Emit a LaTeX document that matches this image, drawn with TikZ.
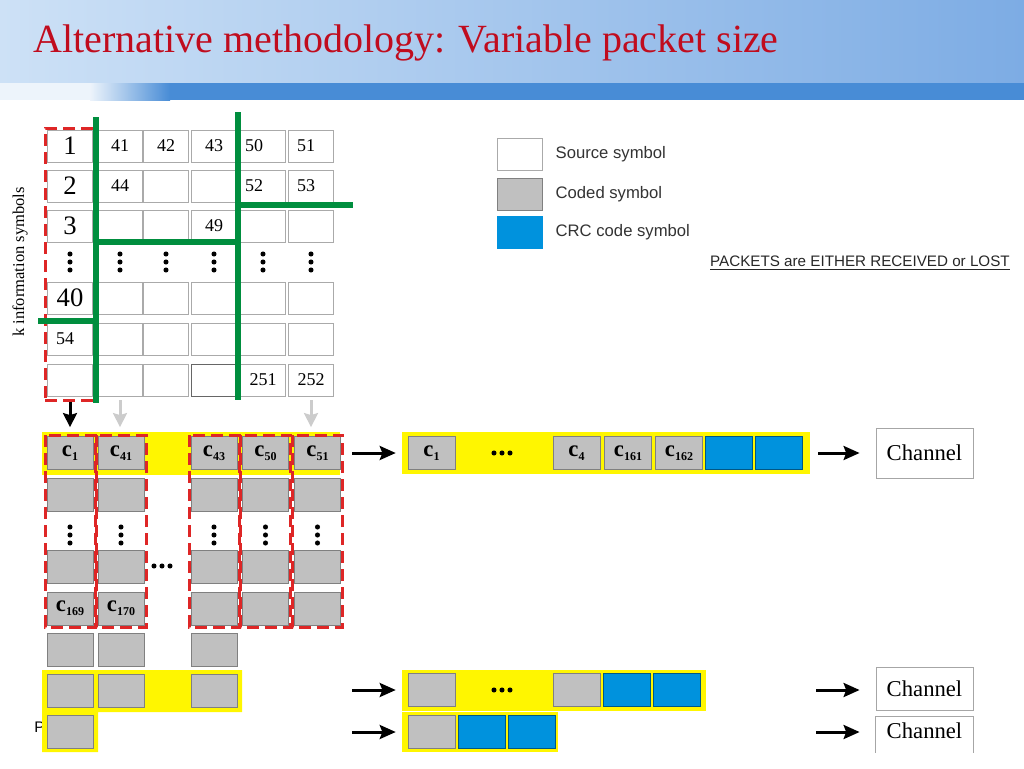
\documentclass[tikz,border=0pt]{standalone}
\usepackage{fontspec}
\setmainfont{Liberation Serif}
\setsansfont{Liberation Sans}
\usepackage{tikz}
\usetikzlibrary{arrows.meta, positioning, calc}

\definecolor{hdleft}{RGB}{205,225,246}
\definecolor{hdright}{RGB}{125,172,228}
\definecolor{hdbar}{RGB}{72,140,214}
\definecolor{titlered}{RGB}{192,12,30}
\definecolor{cutgreen}{RGB}{0,142,62}
\definecolor{dashred}{RGB}{222,38,38}
\definecolor{codegray}{RGB}{192,192,192}
\definecolor{crcblue}{RGB}{0,146,221}
\definecolor{pkyellow}{RGB}{255,246,0}
\definecolor{boxline}{RGB}{170,170,170}

\newcommand{\csym}[1]{{\fontsize{17}{17}\selectfont\bfseries c}{\fontsize{9}{9}\selectfont\bfseries\raisebox{-3pt}{#1}}}

\begin{document}
\begin{tikzpicture}[x=0.75pt, y=-0.75pt,
    src/.style={draw=boxline, line width=0.6pt, fill=white, minimum width=33.75pt, minimum height=24pt, inner sep=0pt},
    coded/.style={draw=gray, line width=0.6pt, fill=codegray, minimum width=34.5pt, minimum height=24.75pt, inner sep=0pt},
    pcoded/.style={coded, minimum width=35.25pt},
    crc/.style={draw=black!40!crcblue, line width=0.6pt, fill=crcblue, minimum width=35.25pt, minimum height=24.75pt, inner sep=0pt},
    packet/.style={fill=pkyellow, inner sep=0pt},
    channel/.style={draw=gray!70, line width=0.6pt, fill=white, minimum width=72.75pt, inner sep=0pt, font=\fontsize{17}{20}\selectfont},
    bignum/.style={font=\fontsize{20}{20}\selectfont},
    smallnum/.style={font=\fontsize{13.5}{14}\selectfont},
    legtxt/.style={inner sep=0pt, anchor=west, text=black!80, font=\sffamily\fontsize{12.5}{14}\selectfont},
    cut/.style={draw=cutgreen, line width=4.5pt},
    reddash/.style={draw=dashred, line width=2.25pt, dash pattern=on 9pt off 4.5pt},
    arr/.style={line width=2.25pt, -{Stealth[length=12pt, width=10.5pt, inset=2pt]}},
    darr/.style={line width=2.25pt, -{Stealth[length=10.5pt, width=10.5pt, inset=1.5pt]}},
    garr/.style={darr, draw=black!20}
]
    \useasboundingbox (0,0) rectangle (1024,768);

    \shade[left color=hdleft, right color=hdright] (0,0) rectangle (1024,83);
    \fill[hdbar!10] (0,83) rectangle (90,100);
    \shade[left color=hdbar!10, right color=hdbar] (90,83) rectangle (170,100);
    \fill[hdbar] (170,83) rectangle (1024,100);
    \node[anchor=base west, inner sep=0pt, text=titlered, font=\fontsize{30}{36}\selectfont] (title) at (33,52) {Alternative methodology: Variable packet size};

    \foreach \r/\y in {1/146,2/186,3/226,5/298,6/339,7/380}
        \foreach \c/\x in {0/70,1/120,2/166,3/214,4/263,5/311}
            \node[src] (g\r\c) at (\x,\y) {};
    \node[src, draw=black!60] at (g73) {};

    \node[bignum] at (g10) {1};
    \node[bignum] at (g20) {2};
    \node[bignum] at (g30) {3};
    \node[bignum] at (g50) {40};
    \node[smallnum] at (g11) {41};
    \node[smallnum] at (g12) {42};
    \node[smallnum] at (g13) {43};
    \node[smallnum, xshift=-6.75pt] at (g14) {50};
    \node[smallnum, xshift=-3.75pt] at (g15) {51};
    \node[smallnum] at (g21) {44};
    \node[smallnum, xshift=-6.75pt] at (g24) {52};
    \node[smallnum, xshift=-3.75pt] at (g25) {53};
    \node[smallnum] at (g33) {49};
    \node[smallnum, xshift=-3.75pt] at (g60) {54};
    \node[smallnum] at (g74) {251};
    \node[smallnum] at (g75) {252};

    \foreach \x in {70,120,166,214,263,311}
        \foreach \d in {-8,0,8}
            \fill ({\x},{262+\d}) circle (1.9pt);

    \node[rotate=90, font=\fontsize{12.4}{14}\selectfont] (klab) at (20,262) {k information symbols};

    \node[reddash, minimum width=37.5pt, minimum height=204pt, inner sep=0pt] (tcol0) at (70,264) {};

    \draw[cut] (96,117) -- (96,403);
    \draw[cut] (238,112) -- (238,400);
    \draw[cut] (38,321) -- (96,321);
    \draw[cut] (96,242) -- (238,242);
    \draw[cut] (238,205) -- (353,205);

    \fill[pkyellow] (42,432) rectangle (340,475);
    \node[font=\sffamily\fontsize{11.5}{12}\selectfont, anchor=west, inner sep=0pt] (ptxt) at (34,727) {P};
    \fill[pkyellow] (42,670) -- (242,670) -- (242,712) -- (98,712) -- (98,752) -- (42,752) -- cycle;

    \node[coded] (b00) at (70,453) {\csym{1}};
    \node[coded] (b01) at (121,453) {\csym{41}};
    \node[coded] (b03) at (214,453) {\csym{43}};
    \node[coded] (b04) at (265.5,453) {\csym{50}};
    \node[coded] (b05) at (317.5,453) {\csym{51}};
    \foreach \c/\x in {0/70,1/121,3/214,4/265.5,5/317.5} {
        \node[coded] (b1\c) at (\x,495) {};
        \node[coded] (b3\c) at (\x,566.5) {};
    }
    \node[coded] (b40) at (70,608.5) {\csym{169}};
    \node[coded] (b41) at (121,608.5) {\csym{170}};
    \foreach \c/\x in {3/214,4/265.5,5/317.5}
        \node[coded] (b4\c) at (\x,608.5) {};
    \foreach \c/\x in {0/70,1/121,3/214} {
        \node[coded] (b5\c) at (\x,649.5) {};
        \node[coded] (b6\c) at (\x,690.5) {};
    }
    \node[coded] (b70) at (70,732) {};

    \foreach \x in {70,121,214,265.5,317.5} {
        \draw[reddash] ({\x-25},435) rectangle ({\x+25},627);
        \foreach \d in {-8,0,8}
            \fill ({\x},{535+\d}) circle (1.9pt);
    }
    \foreach \x in {154,162,170}
        \fill (\x,566) circle (1.9pt);

    \draw[darr] (tcol0.south) -- ([yshift=6.75pt]b00.north);
    \draw[garr, shorten <=3pt, shorten >=6.75pt] (g71.south) -- (g71.south |- b01.north);
    \draw[garr, shorten <=3pt, shorten >=6.75pt] (g75.south) -- (g75.south |- b05.north);

    \node[packet, minimum width=306pt, minimum height=31.5pt] (pk1) at (606,453) {};
    \node[pcoded] (p11) at (431.5,453) {\csym{1}};
    \node[pcoded] (p12) at (576.5,453) {\csym{4}};
    \node[pcoded] (p13) at (628,453) {\csym{161}};
    \node[pcoded] (p14) at (679,453) {\csym{162}};
    \node[crc] (p15) at (729,453) {};
    \node[crc] (p16) at (779,453) {};

    \node[packet, minimum width=228pt, minimum height=30.75pt] (pkA) at (554,690.5) {};
    \node[packet, minimum width=117pt, minimum height=30pt] (pkB) at (480,732) {};
    \node[pcoded] (pa1) at (431.5,690) {};
    \node[pcoded] (pa2) at (576.5,690) {};
    \node[crc] (pa3) at (626.5,690) {};
    \node[crc] (pa4) at (676.5,690) {};
    \node[pcoded] (pb1) at (431.5,732) {};
    \node[crc] (pb2) at (481.5,732) {};
    \node[crc] (pb3) at (531.5,732) {};

    \foreach \y in {453,690}
        \foreach \x in {494,502,510}
            \fill (\x,\y) circle (1.9pt);

    \node[channel, minimum height=37.5pt] (ch1) at (924.5,453) {Channel};
    \node[channel, minimum height=32.25pt] (chA) at (924.5,688.5) {Channel};
    \node[channel, draw=none, minimum height=27pt, anchor=north] (chB) at (924.5,716) {};
    \draw[gray!70, line width=0.6pt] (chB.south west) -- (chB.north west) -- (chB.north east) -- (chB.south east);
    \node[font=\fontsize{17}{20}\selectfont] (chBt) at (924.5,731) {Channel};

    \coordinate (s1) at (352,453);
    \coordinate (sA) at (352,690);
    \coordinate (sB) at (352,732);
    \coordinate (r1) at (818,453);
    \coordinate (rA) at (816,690);
    \coordinate (rB) at (816,732);
    \draw[arr, shorten >=4.5pt] (s1) -- (s1 -| pk1.west);
    \draw[arr, shorten >=4.5pt] (sA) -- (sA -| pkA.west);
    \draw[arr, shorten >=4.5pt] (sB) -- (sB -| pkB.west);
    \draw[arr, shorten >=12pt] (r1) -- (r1 -| ch1.west);
    \draw[arr, shorten >=12pt] (rA) -- (rA -| chA.west);
    \draw[arr, shorten >=12pt] (rB) -- (rB -| chB.west);

    \node[src] (ls) at (519.5,154) {};
    \node[coded, minimum width=33.75pt, minimum height=24pt] (lc) at (519.5,194) {};
    \node[crc, minimum width=33.75pt, minimum height=24pt, draw=crcblue] (lr) at (519.5,232.5) {};
    \node[legtxt, right=9.75pt of ls] (lst) {Source symbol};
    \node[legtxt, right=9.75pt of lc] (lct) {Coded symbol};
    \node[legtxt, right=9.75pt of lr] (lrt) {CRC code symbol};
    \node[inner sep=0pt, anchor=east, text=black!85, font=\sffamily\fontsize{11.4}{13}\selectfont] (note) at (1010,263) {\underline{PACKETS are EITHER RECEIVED or LOST}};
\end{tikzpicture}
\end{document}
